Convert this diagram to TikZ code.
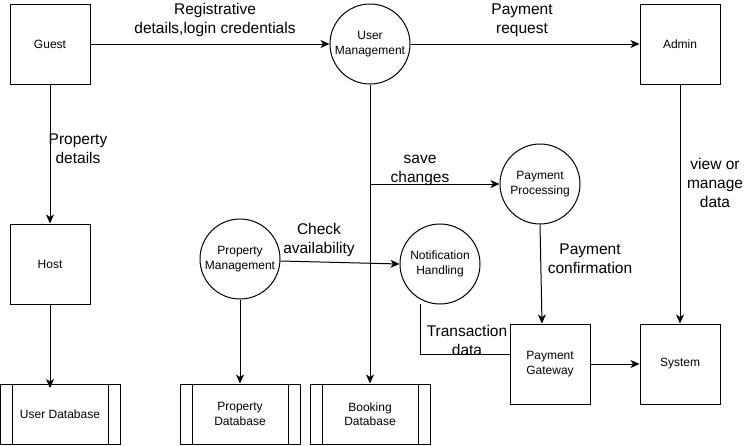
\documentclass[tikz,border=0pt]{standalone}
\usepackage{fontspec}
\setmainfont{Liberation Sans}
\usetikzlibrary{arrows.meta}
\begin{document}
\begin{tikzpicture}[x=1pt,y=-1pt,
  every node/.style={font=\fontsize{12}{14.5}\selectfont, align=center, inner sep=0pt},
  box/.style={draw, line width=1pt, minimum width=80pt, minimum height=80pt},
  proc/.style={draw, circle, line width=1pt, minimum size=80pt},
  store/.style={draw, line width=1pt, minimum width=120pt, minimum height=60pt,
    path picture={\draw[line width=1pt] ([xshift=12pt]path picture bounding box.north west) -- ([xshift=12pt]path picture bounding box.south west);
      \draw[line width=1pt] ([xshift=-12pt]path picture bounding box.north east) -- ([xshift=-12pt]path picture bounding box.south east);}},
  arr/.style={draw, line width=1pt, -{Stealth[length=9pt,width=8pt,inset=2.5pt]}},
  ln/.style={draw, line width=1pt},
  lbl/.style={font=\fontsize{15.5}{19}\selectfont, align=center, inner sep=0pt, fill=none}
]
\useasboundingbox (0,0) rectangle (751,445);

\node[box] (guest) at (50,44) {Guest};
\node[proc] (um) at (370,44) {User\\Management};
\node[box] (admin) at (680,44) {Admin};
\node[box] (host) at (50,264) {Host};
\node[proc] (pm) at (240,259) {Property\\Management};
\node[proc] (nh) at (440,264) {Notification\\Handling};
\node[proc] (pp) at (540,184) {Payment\\Processing};
\node[box] (pg) at (550,364) {Payment\\Gateway};
\node[box] (sys) at (680,364) {System};
\node[store] (udb) at (60,414) {User Database};
\node[store] (pdb) at (240,414) {Property\\Database};
\node[store] (bdb) at (370,414) {Booking\\Database};

\coordinate (br) at (370,184);
\coordinate (udbin) at (50,388);
\coordinate (nhs) at (420,304);
\coordinate (bend) at (420,354);

\draw[arr] (guest) -- (um);
\draw[arr] (um) -- (admin);
\draw[arr] (guest) -- (host);
\draw[arr] (host.south) -- (udbin);
\draw[arr] (um) -- (bdb);
\draw[arr] (br) -- (pp.west);
\draw[arr] ([yshift=-2pt]pm.east) -- (nh.west);
\draw[arr] (pm) -- (pdb);
\draw[arr] (pp.south) -- ([xshift=-8pt]pg.north);
\draw[arr] (admin) -- (sys);
\draw[ln] (nhs) -- (bend) -- ([yshift=10pt]pg.west);
\draw[arr] (pg) -- (sys);

\node[lbl] (l1) at (215,20) {Registrative\\details,login credentials};
\node[lbl] (l2) at (522,20) {Payment\\request};
\node[lbl] (l3) at (78,149) {Property\\details};
\node[lbl] (l4) at (420,170) {save\\changes};
\node[lbl] (l5) at (319,240) {Check\\availability};
\node[lbl] (l6) at (590,259) {Payment\\confirmation};
\node[lbl] (l7) at (715,183) {view or\\manage\\data};
\node[lbl] (l8) at (467,340) {Transaction\\data};
\end{tikzpicture}
\end{document}
